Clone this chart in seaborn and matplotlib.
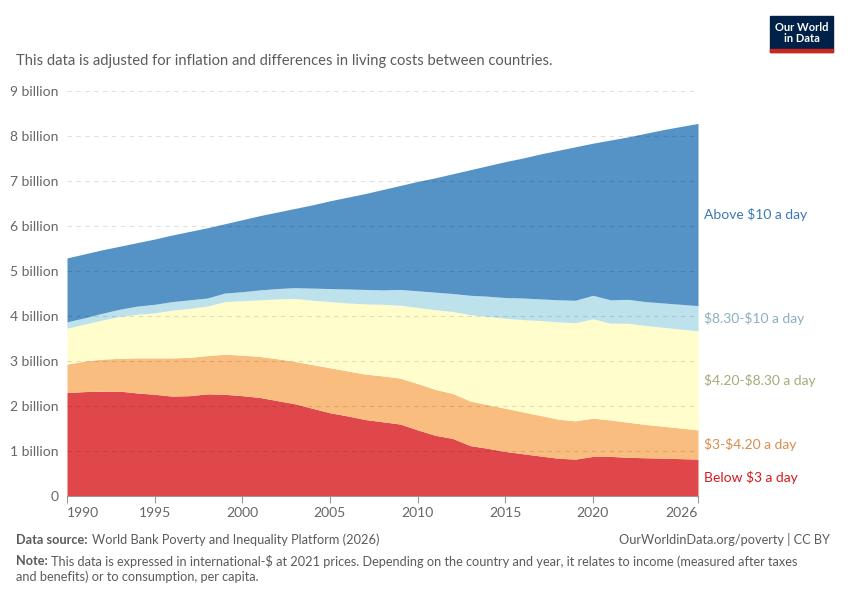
import numpy as np
import matplotlib
matplotlib.use("Agg")
import matplotlib.pyplot as plt
import matplotlib.patches as mpatches
import seaborn as sns

# Data: people by daily income band, billions
years = list(range(1990, 2027))

below_3 = [2.30, 2.32, 2.33, 2.33, 2.29, 2.26, 2.22, 2.23, 2.27, 2.26,
           2.23, 2.19, 2.12, 2.05, 1.95, 1.85, 1.78, 1.70, 1.65, 1.60,
           1.47, 1.35, 1.28, 1.12, 1.06, 0.99, 0.94, 0.89, 0.84, 0.82,
           0.88, 0.88, 0.86, 0.85, 0.84, 0.83, 0.82]
band_3_420 = [0.63, 0.68, 0.71, 0.73, 0.78, 0.81, 0.85, 0.85, 0.85, 0.89,
              0.90, 0.91, 0.93, 0.94, 0.97, 1.00, 1.00, 1.01, 1.02, 1.02,
              1.03, 1.02, 1.00, 0.99, 0.97, 0.96, 0.93, 0.90, 0.87, 0.85,
              0.85, 0.81, 0.78, 0.74, 0.71, 0.68, 0.65]
band_420_830 = [0.80, 0.82, 0.87, 0.93, 0.97, 1.00, 1.06, 1.09, 1.10, 1.17,
                1.21, 1.26, 1.33, 1.40, 1.43, 1.47, 1.51, 1.56, 1.59, 1.62,
                1.69, 1.77, 1.82, 1.92, 1.96, 2.00, 2.05, 2.11, 2.16, 2.18,
                2.21, 2.15, 2.20, 2.20, 2.20, 2.20, 2.20]
band_830_10 = [0.14, 0.14, 0.15, 0.16, 0.18, 0.19, 0.19, 0.19, 0.18, 0.19,
               0.20, 0.22, 0.23, 0.24, 0.27, 0.29, 0.31, 0.32, 0.32, 0.35,
               0.37, 0.39, 0.40, 0.43, 0.45, 0.46, 0.48, 0.48, 0.49, 0.50,
               0.52, 0.52, 0.53, 0.53, 0.54, 0.55, 0.56]
above_10 = [1.42, 1.42, 1.41, 1.40, 1.41, 1.45, 1.48, 1.52, 1.56, 1.54,
            1.60, 1.65, 1.70, 1.76, 1.85, 1.95, 2.04, 2.13, 2.23, 2.31,
            2.43, 2.54, 2.66, 2.79, 2.90, 3.02, 3.11, 3.22, 3.32, 3.41,
            3.38, 3.55, 3.61, 3.74, 3.85, 3.95, 4.05]

labels = ["Below $3 a day", "$3-$4.20 a day", "$4.20-$8.30 a day",
          "$8.30-$10 a day", "Above $10 a day"]
fill_colors = ["#E0474B", "#F9BD80", "#FFFDCC", "#BDE2EC", "#5592C5"]
text_colors = ["#D7191C", "#D98E4A", "#A8A97A", "#8AAFC0", "#3A78B5"]

xticks = [1990, 1995, 2000, 2005, 2010, 2015, 2020, 2026]
yticks = list(range(0, 10))
ytick_labels = ["0"] + [f"{v} billion" for v in yticks[1:]]

sns.set_theme(style="white")
plt.rcParams["font.family"] = ["Lato", "DejaVu Sans"]
plt.rcParams["text.parse_math"] = False

fig = plt.figure(figsize=(8.5, 6), dpi=100)
ax = fig.add_axes([67 / 850, 1 - 496 / 600, (698 - 67) / 850, (496 - 91) / 600])

series = [below_3, band_3_420, band_420_830, band_830_10, above_10]
ax.stackplot(years, *series, colors=fill_colors, linewidth=0, zorder=1)

# dashed gridlines, faintly visible over the areas too
for v in yticks[1:]:
    ax.axhline(v, color="black", alpha=0.12, lw=0.8, ls=(0, (4, 4)), zorder=3)

ax.set_xlim(1990, 2026)
ax.set_ylim(0, 9)
ax.set_xticks(xticks)
ax.set_yticks(yticks)
ax.set_yticklabels(ytick_labels)
ax.tick_params(axis="x", length=5, width=0.8, color="#999999", colors="#666666",
               labelsize=10, pad=3, bottom=True)
ax.tick_params(axis="y", length=0, colors="#666666", labelsize=10, pad=6)
xlabs = ax.get_xticklabels()
for lab in xlabs:
    lab.set_color("#666666")
xlabs[0].set_ha("left")
xlabs[-1].set_ha("right")

sns.despine(ax=ax, left=True, top=True, right=True)
ax.spines["bottom"].set_color("#999999")
ax.spines["bottom"].set_linewidth(0.8)

# labels at the right end, centred on each band
cum = np.cumsum(np.array(series), axis=0)
for i, lab in enumerate(labels):
    top = cum[i][-1]
    bottom = cum[i - 1][-1] if i > 0 else 0
    ax.text(2026 + 0.35, (top + bottom) / 2, lab, color=text_colors[i],
            fontsize=10, va="center", ha="left", clip_on=False)

# header
fig.text(16 / 850, 1 - 61 / 600, "This data is adjusted for inflation and differences in living costs between countries.",
         fontsize=10.65, color="#5b5b5b", va="center")

# logo
fig.patches.append(mpatches.Rectangle((770 / 850, 1 - 52 / 600), 63 / 850, 36 / 600,
                                      transform=fig.transFigure, color="#002147", zorder=5))
fig.patches.append(mpatches.Rectangle((770 / 850, 1 - 52 / 600), 63 / 850, 3 / 600,
                                      transform=fig.transFigure, color="#CE261E", zorder=6))
fig.text(801.5 / 850, 1 - 33 / 600, "Our World\nin Data", color="white", fontsize=8,
         ha="center", va="center", linespacing=0.95, zorder=7, fontweight="bold")

# footer
grey = "#5b5b5b"
fs = 9.2
src = fig.text(16 / 850, 1 - 540 / 600, "Data source:", fontsize=fs, color=grey,
               fontweight="bold", va="center")
ax.annotate("World Bank Poverty and Inequality Platform (2026)", xy=(1, 0.5),
            xycoords=src, xytext=(3, 0), textcoords="offset points",
            fontsize=fs, color=grey, va="center", ha="left")
fig.text(830 / 850, 1 - 540 / 600, "OurWorldinData.org/poverty | CC BY",
         fontsize=fs, color=grey, va="center", ha="right")
note = fig.text(16 / 850, 1 - 561 / 600, "Note:", fontsize=fs, color=grey,
                fontweight="bold", va="center")
ax.annotate("This data is expressed in international-$ at 2021 prices. Depending on the country and year, it relates to income (measured after taxes",
            xy=(1, 0.5), xycoords=note, xytext=(2.5, 0), textcoords="offset points",
            fontsize=fs, color=grey, va="center", ha="left")
fig.text(16 / 850, 1 - 577 / 600, "and benefits) or to consumption, per capita.",
         fontsize=fs, color=grey, va="center")

fig.savefig("out.png", dpi=100, facecolor="white")
